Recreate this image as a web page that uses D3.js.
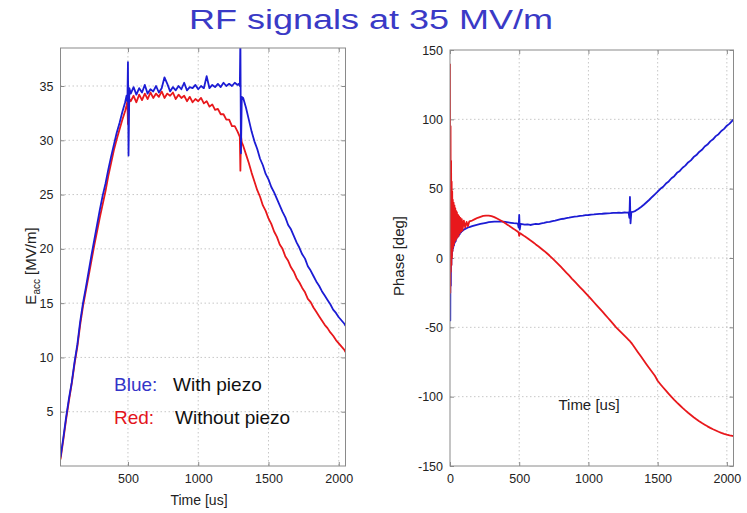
<!DOCTYPE html>
<html>
<head>
<meta charset="utf-8">
<script src="https://cdn.jsdelivr.net/npm/d3@7"></script>
<style>
  html, body { margin: 0; padding: 0; background: #fff; }
  svg { display: block; font-family: "Liberation Sans", Arial, Helvetica, sans-serif; }
</style>
</head>
<body>
<svg id="chart" width="747" height="513"></svg>
<script>
// ---------------- DATA ----------------
const titleText = "RF signals at 35 MV/m";

// Left panel: accelerating gradient vs time
const leftTime = [
  20,40,60,80,100,120,140,160,180,200,220,240,260,280,300,320,340,360,380,400,420,440,460,480,
  490,496,500,504,510,
  520,540,560,580,600,620,640,660,680,700,720,740,760,780,800,820,840,860,880,900,
  920,940,960,980,1000,1020,1040,1060,1080,1100,1120,1140,1160,1180,1200,1220,1240,1260,1280,
  1290,1296,1300,1304,1310,
  1320,1340,1360,1380,1400,1420,1440,1460,1480,1500,1520,1540,1560,1580,1600,1620,1640,1660,1680,1700,
  1720,1740,1760,1780,1800,1820,1840,1860,1880,1900,1920,1940,1960,1980,2000,2020,2040,2048
];
const eaccBlue = [
  0.8,2.6,4.5,6.2,7.7,9.6,11.2,13.3,15.0,16.4,17.9,19.4,20.8,22.2,23.6,24.9,26.0,27.3,28.5,29.6,30.7,31.6,32.6,33.5,
  34.1,33.6,37.2,28.6,34.8,
  34.3,34.9,34.2,34.8,34.4,35.1,34.3,34.7,34.5,35.0,34.4,34.8,35.8,35.2,34.5,34.9,34.6,35.0,34.7,35.3,
  34.6,34.9,34.8,35.1,34.7,35.0,34.8,35.9,34.8,35.1,34.9,35.2,34.9,35.3,35.0,35.2,35.0,35.3,35.1,
  35.2,35.0,39.5,28.8,34.0,
  33.9,33.0,31.9,30.8,29.9,29.2,28.3,27.7,26.9,26.4,25.7,25.2,24.6,24.0,23.4,22.9,22.2,21.8,21.2,20.6,
  20.1,19.5,19.1,18.4,18.0,17.5,17.0,16.6,16.1,15.7,15.3,14.9,14.4,14.1,13.7,13.4,13.1,12.9
];
const eaccRed = [
  0.6,2.4,4.3,6.0,7.6,9.4,11.0,13.0,14.7,16.1,17.5,18.9,20.3,21.6,22.9,24.1,25.3,26.7,27.9,29.1,30.1,31.0,31.9,32.7,
  33.2,33.6,31.5,33.0,33.8,
  33.6,34.1,33.5,34.2,33.7,34.3,33.8,34.4,33.9,34.3,34.0,34.5,33.9,34.3,34.1,34.4,33.8,34.2,33.9,34.1,
  33.6,34.0,33.5,33.8,33.6,33.9,33.4,33.6,33.1,33.3,32.8,32.9,32.4,32.4,31.9,31.9,31.3,31.3,30.8,
  30.5,30.3,27.2,30.4,29.8,
  29.5,28.7,27.9,27.0,26.2,25.4,24.8,24.0,23.5,22.8,22.3,21.6,21.1,20.4,20.0,19.3,18.9,18.3,17.9,17.3,
  16.9,16.4,16.0,15.4,15.1,14.6,14.2,13.8,13.4,13.0,12.7,12.3,12.0,11.6,11.3,11.0,10.7,10.5
];
const leftYTicks = [5,10,15,20,25,30,35];
const leftXTicks = [500,1000,1500,2000];

// Right panel: phase vs time
const rightTime = [
  0,2,4,6,8,10,12,14,16,18,20,23,26,29,32,35,38,41,44,47,50,54,58,62,66,70,75,80,85,90,100,110,120,130,140,
  160,180,200,220,240,260,280,300,320,340,360,380,400,420,440,460,480,
  490,496,500,504,510,
  520,540,560,580,600,620,640,660,680,700,720,740,760,780,800,820,840,860,880,900,
  920,940,960,980,1000,1020,1040,1060,1080,1100,1120,1140,1160,1180,1200,1220,1240,1260,1280,
  1290,1296,1300,1304,1310,
  1320,1340,1360,1380,1400,1420,1440,1460,1480,1500,1520,1540,1560,1580,1600,1620,1640,1660,1680,1700,
  1720,1740,1760,1780,1800,1820,1840,1860,1880,1900,1920,1940,1960,1980,2000,2020,2040,2048
];
const phaseBlue = [
  60,-45,40,-20,25,-5,15,2,12,5,10,7,12,9,14,11,15,12,16,14,17,15,18,16,19,17,19.5,18.5,20,19.5,20.5,21,21.5,22,22.3,
  23.0,23.6,24.1,24.6,25.0,25.4,25.8,26.0,26.2,26.3,26.3,26.2,26.0,25.7,25.4,25.1,24.9,
  24.8,22.0,31.0,20.5,24.6,
  24.4,24.0,24.3,23.8,24.2,24.6,24.4,25.0,25.3,25.8,26.0,26.6,27.0,27.5,28.0,28.3,28.8,29.1,29.5,29.8,
  30.0,30.4,30.6,30.9,31.0,31.3,31.4,31.6,31.8,31.9,32.1,32.2,32.3,32.5,32.5,32.7,32.6,32.8,32.7,
  32.9,29.0,44.0,25.0,33.0,
  33.2,34.0,35.3,36.8,38.4,40.2,42.0,44.0,45.9,47.8,49.9,51.4,53.7,55.2,57.5,59.0,61.4,62.8,65.1,66.6,
  68.9,70.4,72.8,74.2,76.5,78.0,80.4,81.8,84.1,85.6,87.9,89.3,91.6,93.1,95.4,96.9,99.1,99.8
];
const phaseRed = [
  140,-25,95,-10,70,-5,55,0,48,5,42,8,40,10,38,12,36,13,34,14,33,15,31,16,30,18,29,19,28,20,27,22,26,23,26.5,
  27.0,28.0,29.0,29.7,30.3,30.6,30.6,30.2,29.5,28.5,27.4,26.3,25.0,23.7,22.3,21.0,19.6,
  18.9,18.4,16.0,18.0,17.7,
  17.0,15.6,14.3,12.8,11.4,9.8,8.3,6.7,5.1,3.4,1.6,-0.3,-2.2,-4.2,-6.3,-8.4,-10.5,-12.6,-14.8,-16.9,
  -19.0,-21.1,-23.2,-25.4,-27.5,-29.7,-31.9,-34.1,-36.3,-38.5,-40.8,-43.1,-45.4,-47.7,-50.0,-52.0,-54.0,-56.0,-58.0,
  -59.0,-59.6,-60.0,-60.5,-61.2,
  -62.6,-65.4,-68.3,-71.1,-74.0,-76.8,-79.5,-82.2,-84.9,-88.5,-91.0,-93.4,-95.7,-98.0,-100.2,-102.3,-104.3,-106.2,-108.1,-109.9,
  -111.6,-113.2,-114.8,-116.3,-117.7,-119.0,-120.2,-121.4,-122.5,-123.5,-124.4,-125.3,-126.1,-126.8,-127.4,-127.9,-128.3,-128.5
];
const rightYTicks = [-150,-100,-50,0,50,100,150];
const rightXTicks = [0,500,1000,1500,2000];

const legendItems = [
  {key: "Blue:", label: "With piezo", color: "#3434c8"},
  {key: "Red:",  label: "Without piezo", color: "#e3141c"}
];

// ---------------- DRAW ----------------
const svg = d3.select("#chart");
const BLUE = "#1c1cd4", RED = "#e8181c";
const FRAME = "#8a8a8a", GRID = "#b9b9b9", TXT = "#222";
const fmt = d => String(d);

svg.append("text")
  .attr("x", 189).attr("y", 29)
  .attr("font-size", 27)
  .attr("fill", "#3a3ac6")
  .attr("textLength", 364).attr("lengthAdjust", "spacingAndGlyphs")
  .text(titleText);

function panel(opt) {
  const g = svg.append("g");
  const x = d3.scaleLinear().domain(opt.xDomain).range([opt.left, opt.right]);
  const y = d3.scaleLinear().domain(opt.yDomain).range([opt.bottom, opt.top]);
  const id = "clip" + opt.name;
  svg.append("clipPath").attr("id", id).append("rect")
    .attr("x", opt.left).attr("y", opt.top)
    .attr("width", opt.right - opt.left).attr("height", opt.bottom - opt.top);

  // grid
  g.selectAll(".gx").data(opt.xTicks.filter(t => x(t) > opt.left + 1 && x(t) < opt.right - 1)).join("line")
    .attr("x1", d => x(d)).attr("x2", d => x(d))
    .attr("y1", opt.top).attr("y2", opt.bottom)
    .attr("stroke", GRID).attr("stroke-width", 0.8).attr("stroke-dasharray", "1.5,2.5");
  g.selectAll(".gy").data(opt.yTicks.filter(t => y(t) > opt.top + 1 && y(t) < opt.bottom - 1)).join("line")
    .attr("y1", d => y(d)).attr("y2", d => y(d))
    .attr("x1", opt.left).attr("x2", opt.right)
    .attr("stroke", GRID).attr("stroke-width", 0.8).attr("stroke-dasharray", "1.5,2.5");

  // axes with inward ticks
  const axB = d3.axisBottom(x).tickValues(opt.xTicks).tickFormat(fmt).tickSizeInner(-4).tickSizeOuter(0).tickPadding(8);
  const axT = d3.axisTop(x).tickValues(opt.xTicks).tickSizeInner(-4).tickSizeOuter(0).tickFormat("");
  const axL = d3.axisLeft(y).tickValues(opt.yTicks).tickFormat(fmt).tickSizeInner(-4).tickSizeOuter(0).tickPadding(7);
  const axR = d3.axisRight(y).tickValues(opt.yTicks).tickSizeInner(-4).tickSizeOuter(0).tickFormat("");
  function style(sel) {
    sel.select(".domain").remove();
    sel.selectAll("line").attr("stroke", FRAME);
    sel.selectAll("text").attr("fill", TXT).attr("font-size", 12.5)
      .attr("font-family", "'Liberation Sans', Arial, sans-serif");
  }
  g.append("g").attr("transform", `translate(0,${opt.bottom})`).call(axB).call(style);
  g.append("g").attr("transform", `translate(0,${opt.top})`).call(axT).call(style);
  g.append("g").attr("transform", `translate(${opt.left},0)`).call(axL).call(style);
  g.append("g").attr("transform", `translate(${opt.right},0)`).call(axR).call(style);

  // lines
  const lg = g.append("g").attr("clip-path", `url(#${id})`);
  opt.series.forEach(s => {
    const line = d3.line().x((d, i) => x(s.t[i])).y(d => y(d));
    lg.append("path").datum(s.v).attr("d", line)
      .attr("fill", "none").attr("stroke", s.color).attr("stroke-width", 1.8)
      .attr("stroke-linejoin", "round");
  });

  // frame
  g.append("rect").attr("x", opt.left).attr("y", opt.top)
    .attr("width", opt.right - opt.left).attr("height", opt.bottom - opt.top)
    .attr("fill", "none").attr("stroke", FRAME).attr("stroke-width", 1);
  return {x, y, g};
}

const L = panel({
  name: "L", left: 60.5, right: 345.5, top: 48, bottom: 466,
  xDomain: [20, 2048], yDomain: [0, 38.5],
  xTicks: leftXTicks, yTicks: leftYTicks,
  series: [
    {t: leftTime, v: eaccRed, color: RED},
    {t: leftTime, v: eaccBlue, color: BLUE}
  ]
});

const R = panel({
  name: "R", left: 450, right: 733.5, top: 50, bottom: 466,
  xDomain: [0, 2048], yDomain: [-150, 150],
  xTicks: rightXTicks, yTicks: rightYTicks,
  series: [
    {t: rightTime, v: phaseBlue, color: BLUE},
    {t: rightTime, v: phaseRed, color: RED}
  ]
});

// axis labels
svg.append("text").attr("x", 199).attr("y", 505).attr("text-anchor", "middle")
  .attr("font-size", 14).attr("fill", TXT).text("Time [us]");
svg.append("text").attr("x", 589).attr("y", 410).attr("text-anchor", "middle")
  .attr("font-size", 15).attr("fill", TXT).text("Time [us]");

const ey = svg.append("text").attr("transform", "translate(36,266) rotate(-90)")
  .attr("text-anchor", "middle").attr("font-size", 15).attr("fill", TXT);
ey.append("tspan").text("E");
ey.append("tspan").attr("font-size", 10).attr("dy", 4).text("acc");
ey.append("tspan").attr("dy", -4).text(" [MV/m]");

svg.append("text").attr("transform", "translate(404,256) rotate(-90)")
  .attr("text-anchor", "middle").attr("font-size", 15).attr("fill", TXT).text("Phase [deg]");

// legend text
const legY = [391, 424];
const legLabelX = [173, 175];
legendItems.forEach((d, i) => {
  svg.append("text").attr("x", 114).attr("y", legY[i]).attr("font-size", 19)
    .attr("fill", d.color).text(d.key);
  svg.append("text").attr("x", legLabelX[i]).attr("y", legY[i]).attr("font-size", 19)
    .attr("fill", "#111").text(d.label);
});
</script>
</body>
</html>
